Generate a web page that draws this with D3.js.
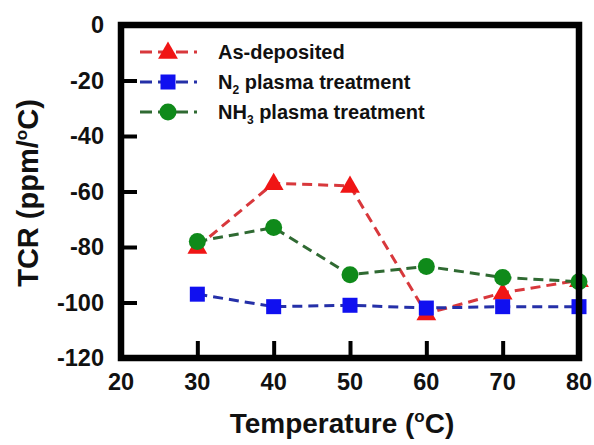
<!DOCTYPE html>
<html>
<head>
<meta charset="utf-8">
<script src="https://cdn.jsdelivr.net/npm/d3@7"></script>
<style>
  body { margin: 0; background: #fff; }
  text { font-family: "Liberation Sans", Arial, sans-serif; font-weight: bold; fill: #111; }
</style>
</head>
<body>
<div id="chart"></div>
<script>
// data
const temps = [30, 40, 50, 60, 70, 80];
const asDeposited = [-80, -57, -58, -104, -96.5, -92];
const n2Plasma = [-97, -101.5, -101, -102, -101.5, -101.5];
const nh3Plasma = [-78, -73, -90, -87, -91, -92.5];
const xTicks = [20, 30, 40, 50, 60, 70, 80];
const yTicks = [0, -20, -40, -60, -80, -100, -120];

const width = 594, height = 445;
const margin = { top: 25, right: 15, bottom: 87, left: 121 };

const svg = d3.select('#chart').append('svg')
    .attr('width', width)
    .attr('height', height);

const x = d3.scaleLinear().domain([20, 80]).range([margin.left, width - margin.right]);
const y = d3.scaleLinear().domain([-120, 0]).range([height - margin.bottom, margin.top]);

const series = [
    { name: 'as', values: asDeposited, fill: '#f01515', line: '#d8383c', shape: 'tri' },
    { name: 'n2', values: n2Plasma, fill: '#1010f0', line: '#2530a8', shape: 'sq' },
    { name: 'nh3', values: nh3Plasma, fill: '#0f8a1a', line: '#2f6a32', shape: 'circ' }
];

const drawMarker = (g, shape, cx, cy, fill) => {
    if (shape === 'tri') {
        g.append('path')
            .attr('d', d3.symbol().type(d3.symbolTriangle).size(170)())
            .attr('transform', `translate(${cx},${cy + 1})`)
            .attr('fill', fill);
    } else if (shape === 'sq') {
        g.append('rect')
            .attr('x', cx - 7.5).attr('y', cy - 7.5)
            .attr('width', 15).attr('height', 15)
            .attr('fill', fill);
    } else {
        g.append('circle')
            .attr('cx', cx).attr('cy', cy).attr('r', 8.5)
            .attr('fill', fill);
    }
}

// series lines + markers
const line = d3.line().x((d, i) => x(temps[i])).y(d => y(d));
series.forEach(s => {
    const g = svg.append('g').attr('class', 'series ' + s.name);
    g.append('path')
        .datum(s.values)
        .attr('d', line)
        .attr('fill', 'none')
        .attr('stroke', s.line)
        .attr('stroke-width', 3)
        .attr('stroke-dasharray', '10,6');
    s.values.forEach((v, i) => drawMarker(g, s.shape, x(temps[i]), y(v), s.fill));
});

// frame
svg.append('rect')
    .attr('x', margin.left).attr('y', margin.top)
    .attr('width', width - margin.right - margin.left)
    .attr('height', height - margin.bottom - margin.top)
    .attr('fill', 'none')
    .attr('stroke', '#000')
    .attr('stroke-width', 6.5);

// inward ticks
const yAxis = svg.append('g')
    .attr('transform', `translate(${margin.left},0)`)
    .call(d3.axisRight(y).tickValues(yTicks).tickSize(16).tickFormat(''));
yAxis.select('.domain').remove();
yAxis.selectAll('line').attr('stroke', '#000').attr('stroke-width', 4);

const xAxis = svg.append('g')
    .attr('transform', `translate(0,${height - margin.bottom})`)
    .call(d3.axisTop(x).tickValues(xTicks).tickSize(17).tickFormat(''));
xAxis.select('.domain').remove();
xAxis.selectAll('line').attr('stroke', '#000').attr('stroke-width', 4);

// tick labels
svg.append('g').selectAll('text')
    .data(yTicks)
    .enter()
    .append('text')
    .attr('x', 104)
    .attr('y', d => y(d))
    .attr('dy', '0.36em')
    .attr('text-anchor', 'end')
    .style('font-size', '23.5px')
    .text(d => d);

svg.append('g').selectAll('text')
    .data(xTicks)
    .enter()
    .append('text')
    .attr('x', d => x(d))
    .attr('y', 390)
    .attr('text-anchor', 'middle')
    .style('font-size', '23.5px')
    .text(d => d);

// axis titles
const xt = svg.append('text')
    .attr('x', 342).attr('y', 433)
    .attr('text-anchor', 'middle')
    .style('font-size', '28px');
xt.append('tspan').text('Temperature (');
xt.append('tspan').attr('dy', -11).style('font-size', '17px').text('o');
xt.append('tspan').attr('dy', 11).text('C)');

const yt = svg.append('text')
    .attr('transform', 'translate(38,193) rotate(-90)')
    .attr('text-anchor', 'middle')
    .style('font-size', '29px');
yt.append('tspan').text('TCR (ppm/');
yt.append('tspan').attr('dy', -11).style('font-size', '17px').text('o');
yt.append('tspan').attr('dy', 11).text('C)');

// legend
const legendRows = [
    { s: series[0], parts: [['As-deposited', 0]] },
    { s: series[1], parts: [['N', 0], ['2', 1], [' plasma treatment', 0]] },
    { s: series[2], parts: [['NH', 0], ['3', 1], [' plasma treatment', 0]] }
];
const legend = svg.append('g').attr('class', 'legend');
legendRows.forEach((row, i) => {
    const ly = 52 + i * 30;
    const g = legend.append('g');
    g.append('line')
        .attr('x1', 140).attr('x2', 197)
        .attr('y1', ly).attr('y2', ly)
        .attr('stroke', row.s.line)
        .attr('stroke-width', 3)
        .attr('stroke-dasharray', '12,6');
    drawMarker(g, row.s.shape, 168, ly, row.s.fill);
    const t = g.append('text')
        .attr('x', 218).attr('y', ly + 7)
        .style('font-size', '20px');
    let sub = 0;
    row.parts.forEach(p => {
        const ts = t.append('tspan').text(p[0]);
        if (p[1] && !sub) { ts.attr('dy', 5).style('font-size', '12px'); sub = 1; }
        else if (!p[1] && sub) { ts.attr('dy', -5); sub = 0; }
    });
});
</script>
</body>
</html>
